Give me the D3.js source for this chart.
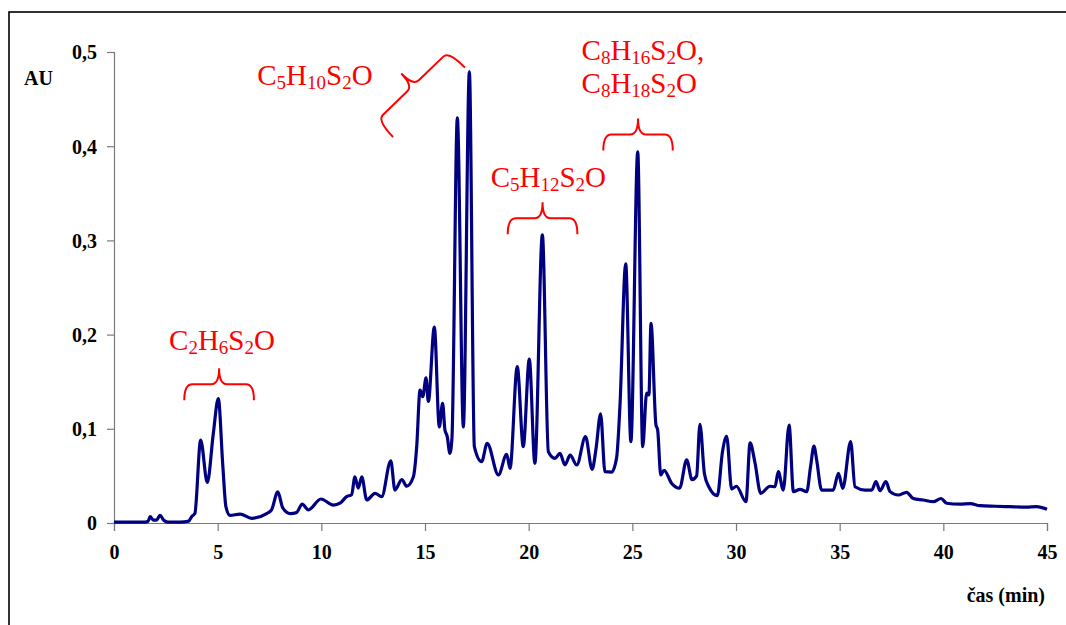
<!DOCTYPE html>
<html>
<head>
<meta charset="utf-8">
<script src="https://cdn.jsdelivr.net/npm/d3@7"></script>
<style>
  body { margin: 0; background: #fff; }
  svg { display: block; font-family: "Liberation Serif", "Times New Roman", serif; }
</style>
</head>
<body>
<svg id="chart" width="1066" height="625"></svg>
<script>
// retention time (min) and absorbance (AU)
var times = [0, 0.8, 1.5, 1.65, 1.74, 1.9, 2.05, 2.22, 2.4, 2.6, 3.2, 3.6, 3.75, 3.9,
  4.18, 4.5, 4.79, 5.03, 5.25, 5.4, 5.6, 6.08, 6.64, 7.36, 7.6, 7.9, 8.14, 8.5, 8.8,
  9.08, 9.37, 9.98, 10.58, 10.9, 11.22, 11.46, 11.62, 11.78, 11.95, 12.19, 12.59,
  12.91, 13.35, 13.55, 13.88, 14.12, 14.44, 14.6, 14.76, 14.89, 15.05, 15.16, 15.45,
  15.69, 15.85, 15.96, 16.07, 16.2, 16.3, 16.56, 16.85, 17.14, 17.38, 17.73, 18.0,
  18.54, 18.94, 19.1, 19.45, 19.74, 20.03, 20.3, 20.66, 20.95, 21.27, 21.51, 21.75,
  22.0, 22.32, 22.74, 23.06, 23.25, 23.47, 23.68, 24.0, 24.24, 24.4, 24.68, 24.93,
  25.26, 25.5, 25.69, 25.8, 25.9, 26.14, 26.22, 26.37, 26.53, 26.9, 27.28, 27.62,
  27.88, 28.1, 28.26, 28.48, 28.7, 29.1, 29.35, 29.55, 29.79, 30.02, 30.48, 30.68,
  30.92, 31.19, 31.64, 31.88, 32.04, 32.28, 32.56, 32.77, 33.09, 33.41, 33.6, 33.76,
  33.89, 34.13, 34.69, 34.94, 35.15, 35.53, 35.74, 36.22, 36.55, 36.75, 36.95, 37.23,
  37.43, 37.83, 38.23, 38.55, 39.03, 39.52, 39.89, 40.16, 40.8, 41.3, 41.77, 42.5, 43.2, 44.0, 44.5, 45]

var au = [0.001, 0.001, 0.001, 0.002, 0.0067, 0.003, 0.003, 0.008, 0.003, 0.001, 0.001, 0.002, 0.007, 0.01,
  0.088, 0.043, 0.095, 0.132, 0.06, 0.017, 0.008, 0.0095, 0.005, 0.010, 0.014, 0.033, 0.016, 0.010, 0.011,
  0.020, 0.014, 0.0255, 0.019, 0.021, 0.028, 0.030, 0.049, 0.037, 0.049, 0.0245, 0.0315,
  0.028, 0.066, 0.035, 0.046, 0.039, 0.049, 0.081, 0.141, 0.134, 0.154, 0.129, 0.208,
  0.102, 0.127, 0.099, 0.092, 0.074, 0.09, 0.430, 0.102, 0.479, 0.081, 0.065, 0.0846,
  0.051, 0.073, 0.058, 0.166, 0.081, 0.174, 0.0634, 0.306, 0.0757, 0.0687, 0.074, 0.0616,
  0.072, 0.0616, 0.0917, 0.057, 0.079, 0.116, 0.0545, 0.054, 0.069, 0.123, 0.275, 0.0864,
  0.394, 0.081, 0.138, 0.136, 0.212, 0.104, 0.099, 0.051, 0.056, 0.042, 0.037, 0.067,
  0.046, 0.050, 0.1047, 0.052, 0.038, 0.029, 0.076, 0.092, 0.036, 0.039, 0.0226, 0.085,
  0.0634, 0.0315, 0.039, 0.0385, 0.0545, 0.035, 0.104, 0.0333, 0.0357, 0.0333, 0.0605, 0.0817,
  0.0669, 0.035, 0.035, 0.0527, 0.0368, 0.0863, 0.0385, 0.035, 0.035, 0.0439, 0.0343, 0.0439,
  0.0333, 0.0297, 0.0326, 0.026, 0.0244, 0.0226, 0.026, 0.021, 0.020, 0.0205, 0.0184, 0.0178, 0.0173, 0.0168, 0.0173, 0.0145]

var xTicks = [0, 5, 10, 15, 20, 25, 30, 35, 40, 45]
var yTicks = [0, 0.1, 0.2, 0.3, 0.4, 0.5]

// compound labels: [main, sub] pieces, anchored in data units
var labels = [
  { parts: [["C", "2"], ["H", "6"], ["S", "2"], ["O", ""]], t: 5.21, v: 0.1836, anchor: "middle" },
  { parts: [["C", "5"], ["H", "10"], ["S", "2"], ["O", ""]], t: 9.69, v: 0.4649, anchor: "middle" },
  { parts: [["C", "5"], ["H", "12"], ["S", "2"], ["O", ""]], t: 20.95, v: 0.357, anchor: "middle" },
  { parts: [["C", "8"], ["H", "16"], ["S", "2"], ["O,", ""]], t: 22.55, v: 0.4914, anchor: "start" },
  { parts: [["C", "8"], ["H", "18"], ["S", "2"], ["O", ""]], t: 22.55, v: 0.456, anchor: "start" }
]

// braces: time span and the AU level of the tip
var braces = [
  { t0: 3.39, t1: 6.75, v: 0.1642 },
  { t0: 18.99, t1: 22.35, v: 0.3404 },
  { t0: 23.6, t1: 26.95, v: 0.4295 }
]

var dimensions = {
  width: 1066,
  height: 625,
  margin: { top: 52, bottom: 102, left: 114, right: 19 }
}

var serif = "Liberation Serif, Times New Roman, serif"

var svg = d3.select("#chart")

// frame around the chart (runs off the page right and bottom)
svg.append("rect")
  .attr("x", 9).attr("y", 12)
  .attr("width", 1100).attr("height", 700)
  .attr("fill", "none")
  .attr("stroke", "#000")
  .attr("stroke-width", 1.6)

var x = d3.scaleLinear()
  .domain([0, 45])
  .range([dimensions.margin.left, dimensions.width - dimensions.margin.right])

var y = d3.scaleLinear()
  .domain([0, 0.5])
  .range([dimensions.height - dimensions.margin.bottom, dimensions.margin.top])

var fmt = function(d) { return d === 0 ? "0" : d.toFixed(1).replace(".", ",") }

var xAxis = svg.append("g")
  .attr("transform", "translate(0," + y(0) + ")")
  .call(d3.axisBottom(x).tickValues(xTicks).tickSize(8).tickPadding(14).tickFormat(d3.format("d")))

var yAxis = svg.append("g")
  .attr("transform", "translate(" + x(0) + ",0)")
  .call(d3.axisLeft(y).tickValues(yTicks).tickSize(7).tickPadding(10).tickFormat(fmt))

xAxis.attr("font-family", serif).attr("font-size", 20).attr("font-weight", "bold")
yAxis.attr("font-family", serif).attr("font-size", 20).attr("font-weight", "bold")

svg.selectAll(".domain, .tick line").attr("stroke", "#7a7a7a").attr("stroke-width", 1.2)
svg.selectAll(".tick text").attr("fill", "#000")
xAxis.selectAll(".tick text").attr("dy", "0.71em")
yAxis.selectAll(".tick text").attr("dy", "0.34em")

// axis titles
svg.append("text")
  .text("AU")
  .attr("x", 24).attr("y", 85)
  .attr("font-family", serif)
  .attr("font-size", 20)
  .attr("font-weight", "bold")

svg.append("text")
  .text("čas (min)")
  .attr("text-anchor", "end")
  .attr("x", 1045).attr("y", 602)
  .attr("font-family", serif)
  .attr("font-size", 20)
  .attr("font-weight", "bold")

// the chromatogram trace
var points = times.map(function(t, i) { return [t, au[i]] })
var line = d3.line()
  .x(function(d) { return x(d[0]) })
  .y(function(d) { return y(d[1]) })
  .curve(d3.curveMonotoneX)

svg.append("path")
  .datum(points)
  .attr("d", line)
  .attr("fill", "none")
  .attr("stroke", "#000080")
  .attr("stroke-width", 3.2)
  .attr("stroke-linejoin", "round")

// brace path: ends at (0,0) and (w,0), arms at -arm, tip at (w/2,-tip)
function bracePath(w, arm, tip) {
  var r = 8
  var c = w / 2
  return "M0,0 Q0," + (-arm) + " " + r + "," + (-arm) +
    " L" + (c - r) + "," + (-arm) +
    " Q" + c + "," + (-arm) + " " + c + "," + (-tip) +
    " Q" + c + "," + (-arm) + " " + (c + r) + "," + (-arm) +
    " L" + (w - r) + "," + (-arm) +
    " Q" + w + "," + (-arm) + " " + w + ",0"
}

braces.forEach(function(b) {
  var w = x(b.t1) - x(b.t0)
  var tip = 32
  svg.append("path")
    .attr("d", bracePath(w, 16, tip))
    .attr("transform", "translate(" + x(b.t0) + "," + (y(b.v) + tip) + ")")
    .attr("fill", "none")
    .attr("stroke", "#ff0000")
    .attr("stroke-width", 2)
})

// tilted brace pointing at the C5H10S2O pair of peaks
svg.append("path")
  .attr("d", bracePath(100, 23, 40))
  .attr("transform", "translate(" + x(13.46) + "," + y(0.4097) + ") rotate(-44)")
  .attr("fill", "none")
  .attr("stroke", "#ff0000")
  .attr("stroke-width", 2)

labels.forEach(function(l) {
  var txt = svg.append("text")
    .attr("x", x(l.t)).attr("y", y(l.v))
    .attr("text-anchor", l.anchor)
    .attr("fill", "#ff0000")
    .attr("font-family", serif)
    .attr("font-size", 29)
  var shift = 0
  l.parts.forEach(function(p) {
    txt.append("tspan").text(p[0]).attr("dy", -shift)
    shift = 0
    if (p[1]) {
      txt.append("tspan").text(p[1]).attr("dy", 4).attr("font-size", 19)
      shift = 4
    }
  })
})
</script>
</body>
</html>
